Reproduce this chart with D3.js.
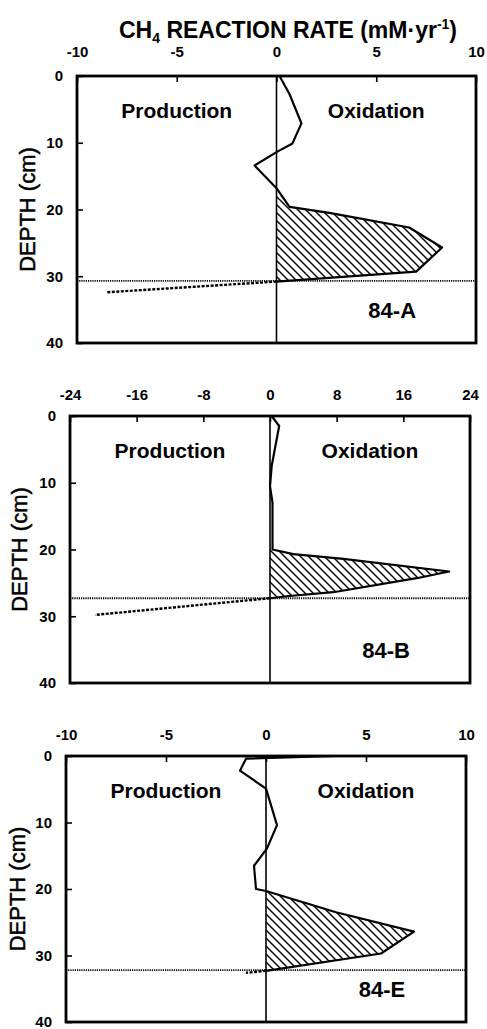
<!DOCTYPE html>
<html>
<head>
<meta charset="utf-8">
<script src="https://cdn.jsdelivr.net/npm/d3@7"></script>
<style>
  body { margin: 0; background: #fff; }
  text { font-family: "Liberation Sans", Arial, sans-serif; fill: #000; }
</style>
</head>
<body>
<script>
// panel names and axis ticks
var panelNames = ["84-A", "84-B", "84-E"];
var depthTicks = [0, 10, 20, 30, 40];
var rateTicksA = [-10, -5, 0, 5, 10];
var rateTicksB = [-24, -16, -8, 0, 8, 16, 24];
var rateTicksE = [-10, -5, 0, 5, 10];

// 84-A profile (depth cm, rate mM/yr)
var depthA = [0, 2.7, 7.1, 10.1, 11.4, 13.4, 16.8, 19.6, 20.5, 22.7, 25.7, 29.3, 30.8];
var rateA = [0.15, 0.65, 1.25, 0.8, 0, -1.1, 0, 0.65, 2.65, 6.65, 8.3, 7.0, 0];
var extDepthA = [30.8, 32.4];
var extRateA = [0, -8.5];
var boundaryA = 30.7;
var hatchFromA = 16.8;

// 84-B profile
var depthB = [0, 1.5, 7.5, 10.5, 13, 20, 20.7, 21.4, 23.3, 24.3, 26.4, 27, 27.3];
var rateB = [0.2, 1.1, 0.2, 0, 0.3, 0.3, 2.8, 8.8, 21.5, 17.6, 7.6, 2, 0];
var extDepthB = [27.3, 29.8];
var extRateB = [0, -21];
var boundaryB = 27.3;
var hatchFromB = 20;

// 84-E profile
var depthE = [0, 0.4, 2.2, 4.9, 10.4, 13.9, 16.5, 20, 20.3, 23.5, 26.4, 29.7, 32.3];
var rateE = [3.5, -1.0, -1.3, 0, 0.55, 0.05, -0.6, -0.5, 0, 3.5, 7.4, 5.75, 0];
var extDepthE = [32.3, 32.6];
var extRateE = [0, -1.0];
var boundaryE = 32.2;
var hatchFromE = 20.3;

var svgWidth = 487;
var svgHeight = 1029;

var svg = d3.select("body")
  .append("svg")
  .attr("width", svgWidth)
  .attr("height", svgHeight);

// diagonal hatch
svg.append("defs")
  .append("pattern")
  .attr("id", "hatch")
  .attr("patternUnits", "userSpaceOnUse")
  .attr("width", 8)
  .attr("height", 8)
  .append("path")
  .attr("d", "M-2,-2 L10,10 M-2,6 L2,10 M6,-2 L10,2")
  .style("stroke", "#000")
  .style("stroke-width", 1.4);

// title
svg.append("text")
  .attr("x", 288)
  .attr("y", 38)
  .attr("text-anchor", "middle")
  .style("font-size", "23px")
  .style("font-weight", "bold")
  .html('CH<tspan dy="5" font-size="14px">4</tspan><tspan dy="-5"> REACTION RATE (mM·yr</tspan><tspan dy="-9" font-size="14px">-1</tspan><tspan dy="9">)</tspan>');

var panels = [
  { name: panelNames[0], ticks: rateTicksA, depth: depthA, rate: rateA, extDepth: extDepthA, extRate: extRateA,
    boundary: boundaryA, hatchFrom: hatchFromA, left: 77, right: 476, top: 76, bottom: 343, pad: 19, labelX: 35 },
  { name: panelNames[1], ticks: rateTicksB, depth: depthB, rate: rateB, extDepth: extDepthB, extRate: extRateB,
    boundary: boundaryB, hatchFrom: hatchFromB, left: 70, right: 470, top: 416, bottom: 683, pad: 16, labelX: 27 },
  { name: panelNames[2], ticks: rateTicksE, depth: depthE, rate: rateE, extDepth: extDepthE, extRate: extRateE,
    boundary: boundaryE, hatchFrom: hatchFromE, left: 66, right: 466, top: 756, bottom: 1022, pad: 16, labelX: 25 }
];

panels.forEach(function(p) {
  var xScale = d3.scaleLinear()
    .domain([p.ticks[0], p.ticks[p.ticks.length - 1]])
    .range([p.left, p.right]);

  var yScale = d3.scaleLinear()
    .domain([0, 40])
    .range([p.top, p.bottom]);

  var g = svg.append("g");

  var pts = p.depth.map(function(d, i) { return { depth: d, rate: p.rate[i] }; });
  var ext = p.extDepth.map(function(d, i) { return { depth: d, rate: p.extRate[i] }; });

  // hatched oxidation zone
  var area = d3.area()
    .y(function(d) { return yScale(d.depth); })
    .x0(xScale(0))
    .x1(function(d) { return xScale(Math.max(0, d.rate)); });

  g.append("path")
    .datum(pts.filter(function(d) { return d.depth >= p.hatchFrom; }))
    .attr("d", area)
    .style("fill", "url(#hatch)")
    .style("stroke", "none");

  // zero line
  g.append("line")
    .attr("x1", xScale(0))
    .attr("x2", xScale(0))
    .attr("y1", yScale(0))
    .attr("y2", yScale(40))
    .style("stroke", "#000")
    .style("stroke-width", 1.6);

  // boundary dotted line
  g.append("line")
    .attr("x1", p.left)
    .attr("x2", p.right)
    .attr("y1", yScale(p.boundary))
    .attr("y2", yScale(p.boundary))
    .style("stroke", "#000")
    .style("stroke-width", 1.8)
    .style("stroke-dasharray", "1.2,1");

  var line = d3.line()
    .x(function(d) { return xScale(d.rate); })
    .y(function(d) { return yScale(d.depth); });

  g.append("path")
    .datum(pts)
    .attr("d", line)
    .style("fill", "none")
    .style("stroke", "#000")
    .style("stroke-width", 2.2)
    .style("stroke-linejoin", "round");

  g.append("path")
    .datum(ext)
    .attr("d", line)
    .style("fill", "none")
    .style("stroke", "#000")
    .style("stroke-width", 2.4)
    .style("stroke-dasharray", "3,1.5");

  // axes
  var topAxis = g.append("g")
    .attr("transform", "translate(0," + p.top + ")")
    .call(d3.axisTop(xScale)
      .tickValues(p.ticks)
      .tickFormat(function(d) { return String(d); })
      .tickSize(-6)
      .tickPadding(p.pad));

  var leftAxis = g.append("g")
    .attr("transform", "translate(" + p.left + ",0)")
    .call(d3.axisLeft(yScale)
      .tickValues(depthTicks)
      .tickFormat(function(d) { return String(d); })
      .tickSize(-6)
      .tickPadding(14));

  [topAxis, leftAxis].forEach(function(ax) {
    ax.select(".domain").remove();
    ax.selectAll("line").style("stroke", "#000").style("stroke-width", 1.6);
    ax.selectAll("text")
      .style("font-size", "15px")
      .style("font-weight", "bold")
      .style("fill", "#000");
  });

  // frame
  g.append("rect")
    .attr("x", p.left)
    .attr("y", p.top)
    .attr("width", p.right - p.left)
    .attr("height", p.bottom - p.top)
    .style("fill", "none")
    .style("stroke", "#000")
    .style("stroke-width", 2.8);

  // labels
  g.append("text")
    .attr("x", xScale(p.ticks[0] / 2))
    .attr("y", yScale(6.3))
    .attr("text-anchor", "middle")
    .style("font-size", "21px")
    .style("font-weight", "bold")
    .text("Production");

  g.append("text")
    .attr("x", xScale(p.ticks[p.ticks.length - 1] / 2))
    .attr("y", yScale(6.3))
    .attr("text-anchor", "middle")
    .style("font-size", "21px")
    .style("font-weight", "bold")
    .text("Oxidation");

  g.append("text")
    .attr("x", xScale(p.ticks[p.ticks.length - 1] * 0.58))
    .attr("y", yScale(36.2))
    .attr("text-anchor", "middle")
    .style("font-size", "22px")
    .style("font-weight", "bold")
    .text(p.name);

  g.append("text")
    .attr("transform", "translate(" + p.labelX + "," + yScale(20) + ") rotate(-90)")
    .attr("text-anchor", "middle")
    .style("font-size", "22px")
    .style("stroke", "#000")
    .style("stroke-width", 0.5)
    .text("DEPTH (cm)");
});
</script>
</body>
</html>
